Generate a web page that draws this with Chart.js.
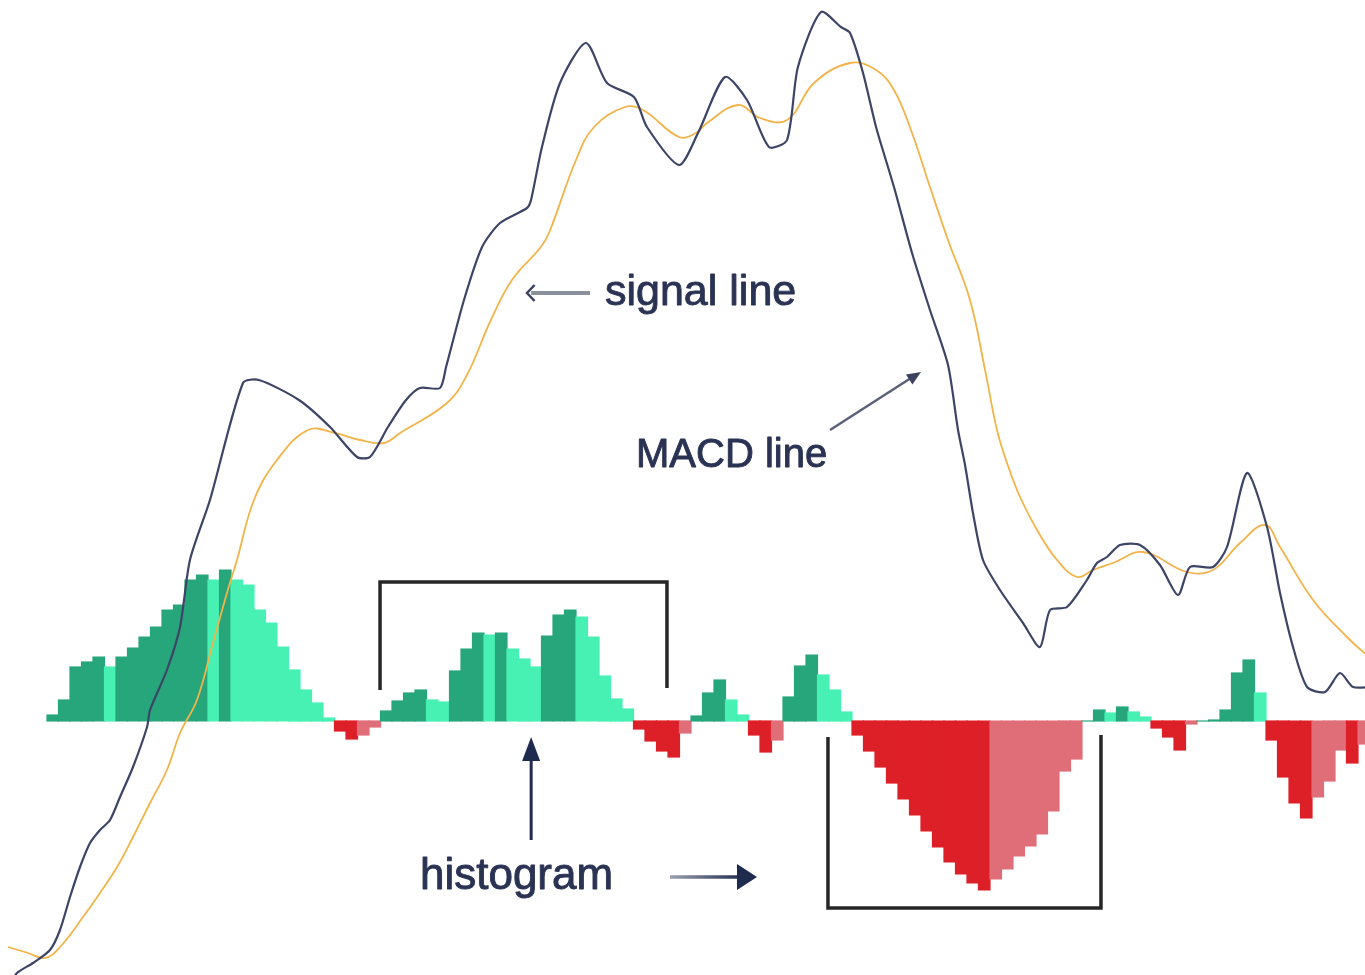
<!DOCTYPE html>
<html>
<head>
<meta charset="utf-8">
<title>MACD</title>
<script src="https://cdn.jsdelivr.net/npm/chart.js@4.4.1/dist/chart.umd.min.js"></script>
<style>
  html, body { margin: 0; padding: 0; background: #ffffff; }
  #wrap { position: relative; width: 1365px; height: 975px; }
</style>
</head>
<body>
<div id="wrap"><canvas id="macdChart"></canvas></div>
<script>
// Histogram: one bar per period, period 0 is the first bar
const histogram = [
  6, 21, 54, 59, 64, 54, 64, 73, 84, 94,
  111, 116, 141, 146, 141, 151, 141, 136, 111, 98,
  74, 51, 31, 18, 3, -10, -18, -14, -6, 10,
  20, 28, 31, 21, 19, 50, 72, 88, 86, 88,
  72, 62, 54, 85, 106, 111, 104, 84, 45, 22,
  12, -8, -20, -30, -36, -12, 5, 28, 41, 21,
  6, -14, -31, -19, 24, 55, 66, 46, 31, 9,
  -14, -30, -46, -62, -78, -94, -110, -126, -141, -153,
  -162, -169, -158, -148, -135, -125, -113, -90, -50, -38,
  0, 11, 8, 14, 9, 4, -7, -16, -29, -3,
  0, 1, 11, 48, 61, 28, -19, -56, -82, -97,
  -76, -60, -29, -42, -23
];

// MACD line (period, value)
const macdPeriods = [
  -3.72, -3.11, -1.72, -0.24, 0.63, 1.5, 2.37, 3.24, 4.11, 4.98,
  5.85, 6.98, 8.2, 8.46, 9.93, 11.07, 11.93, 13.67, 16.54, 17.93,
  21.41, 24.11, 26.46, 27.59, 29.15, 30.72, 31.93, 33.67, 34.2, 35.76,
  37.33, 38.89, 41.24, 41.59, 42.54, 44.11, 46.37, 48.2, 50.54, 51.67,
  54.46, 56.11, 58.46, 60.37, 62.28, 63.85, 64.8, 66.8, 68.54, 69.33,
  70.46, 71.59, 73.15, 74.72, 76.28, 77.85, 78.72, 79.33, 80.02, 80.89,
  82.37, 84.37, 85.85, 86.72, 88.2, 89.93, 90.8, 91.67, 92.8, 94.54,
  96.28, 97.85, 98.89, 100.89, 102.11, 103.85, 105.59, 106.72, 107.85, 109.07,
  110.63, 111.93, 113.07, 114.54
];
const macdValues = [
  -264, -252, -242, -229, -209, -176, -146, -122, -109, -99,
  -76, -46, -6, 11, 51, 94, 161, 221, 338, 341,
  321, 294, 264, 264, 294, 321, 333, 333, 354, 421,
  474, 498, 513, 521, 574, 638, 678, 638, 624, 594,
  556, 588, 644, 621, 574, 581, 654, 709, 694, 688,
  648, 594, 534, 468, 411, 356, 291, 256, 208, 161,
  131, 98, 74, 111, 114, 141, 158, 164, 176, 176,
  156, 126, 154, 154, 174, 248, 194, 128, 74, 34,
  29, 48, 34, 34
];

// Signal line (period, value)
const signalPeriods = [
  -3.89, -2.15, -0.67, 0.63, 2.63, 4.11, 5.59, 6.98, 8.46, 9.93,
  11.07, 12.54, 13.93, 15.15, 16.02, 17.5, 19.5, 22.2, 24.54, 26.72,
  28.8, 30.2, 34.28, 36.02, 38.02, 39.93, 42.37, 43.15, 45.5, 47.07,
  49.76, 51.33, 54.46, 55.93, 56.89, 59.59, 61.5, 63.85, 66.2, 69.33,
  71.59, 73.15, 74.72, 76.28, 77.85, 79.76, 81.07, 82.11, 82.98, 84.11,
  85.59, 87.33, 89.07, 90.46, 92.2, 94.8, 98.63, 100.89, 103.24, 105.41,
  106.72, 109.59, 112.54, 114.54
];
const signalValues = [
  -226, -232, -237, -226, -196, -172, -146, -116, -82, -49,
  -12, 21, 78, 128, 161, 221, 261, 291, 288, 281,
  278, 288, 318, 346, 399, 441, 473, 488, 561, 594,
  614, 611, 584, 588, 598, 616, 603, 601, 638, 658,
  651, 631, 588, 534, 481, 421, 351, 291, 258, 224,
  191, 161, 144, 151, 158, 169, 149, 151, 178, 196,
  174, 121, 84, 63
];

const labels = { signal: 'signal line', macd: 'MACD line', histogram: 'histogram' };

const DARK_GREEN = '#27a67b';
const LIGHT_GREEN = '#47f1b4';
const DARK_RED = '#dd1f28';
const LIGHT_RED = '#df6e78';

// darker shade while the bar grows away from zero, light while it shrinks
function barColor(ctx) {
  const i = ctx.dataIndex;
  const v = histogram[i];
  const prev = i > 0 ? histogram[i - 1] : 0;
  if (v >= 0) return v >= prev ? DARK_GREEN : LIGHT_GREEN;
  return v <= prev ? DARK_RED : LIGHT_RED;
}

function arrowHead(ctx, x1, y1, x2, y2, len, half, color) {
  const a = Math.atan2(y2 - y1, x2 - x1);
  ctx.save();
  ctx.fillStyle = color;
  ctx.beginPath();
  ctx.moveTo(x2, y2);
  ctx.lineTo(x2 - len * Math.cos(a) + half * Math.sin(a), y2 - len * Math.sin(a) - half * Math.cos(a));
  ctx.lineTo(x2 - len * Math.cos(a) - half * Math.sin(a), y2 - len * Math.sin(a) + half * Math.cos(a));
  ctx.closePath();
  ctx.fill();
  ctx.restore();
}

function label(ctx, text, x, y, size) {
  ctx.font = size + 'px "Liberation Sans", Arial, sans-serif';
  ctx.fillText(text, x, y);
  ctx.strokeText(text, x, y);
}

// labels, arrows and brackets, placed in data units
const annotations = {
  id: 'annotations',
  afterDatasetsDraw(chart) {
    const ctx = chart.ctx;
    const xs = chart.scales.x;
    const ys = chart.scales.y;
    const px = t => xs.getPixelForValue(t);
    const py = v => ys.getPixelForValue(v);

    ctx.save();
    ctx.lineCap = 'butt';

    // brackets
    ctx.strokeStyle = '#262626';
    ctx.lineWidth = 3.5;
    ctx.beginPath();
    ctx.moveTo(px(28.46), py(31));
    ctx.lineTo(px(28.46), py(139));
    ctx.lineTo(px(53.41), py(139));
    ctx.lineTo(px(53.41), py(33));
    ctx.stroke();
    ctx.beginPath();
    ctx.moveTo(px(67.41), py(-16));
    ctx.lineTo(px(67.41), py(-187));
    ctx.lineTo(px(91.15), py(-187));
    ctx.lineTo(px(91.15), py(-14));
    ctx.stroke();

    // signal line arrow
    ctx.strokeStyle = '#8a8f9c';
    ctx.lineWidth = 4;
    ctx.beginPath();
    ctx.moveTo(px(46.72), py(428));
    ctx.lineTo(px(41.6), py(428));
    ctx.stroke();
    ctx.strokeStyle = '#3c4360';
    ctx.lineWidth = 2.5;
    ctx.beginPath();
    ctx.moveTo(px(41.9), py(436));
    ctx.lineTo(px(41.24), py(428));
    ctx.lineTo(px(41.9), py(420));
    ctx.stroke();

    // MACD line arrow
    ctx.strokeStyle = '#5b6178';
    ctx.lineWidth = 2.5;
    ctx.beginPath();
    ctx.moveTo(px(67.59), py(291));
    ctx.lineTo(px(74.9), py(345));
    ctx.stroke();
    arrowHead(ctx, px(67.59), py(291), px(75.5), py(349), 14, 6, '#3c4360');

    // histogram arrows
    ctx.strokeStyle = '#1f2a4f';
    ctx.lineWidth = 3;
    ctx.beginPath();
    ctx.moveTo(px(41.6), py(-119));
    ctx.lineTo(px(41.6), py(-30));
    ctx.stroke();
    arrowHead(ctx, px(41.6), py(-119), px(41.6), py(-16), 24, 9, '#1f2a4f');

    const grad = ctx.createLinearGradient(px(53.67), 0, px(60), 0);
    grad.addColorStop(0, '#9aa0ae');
    grad.addColorStop(1, '#1f2a4f');
    ctx.strokeStyle = grad;
    ctx.lineWidth = 3.5;
    ctx.beginPath();
    ctx.moveTo(px(53.67), py(-156));
    ctx.lineTo(px(59.8), py(-156));
    ctx.stroke();
    arrowHead(ctx, px(53.67), py(-156), px(61.24), py(-156), 20, 13, '#1f2a4f');

    // labels (a thin stroke gives the medium weight of the original)
    ctx.fillStyle = '#2b3354';
    ctx.strokeStyle = '#2b3354';
    ctx.lineWidth = 0.9;
    ctx.lineJoin = 'round';
    ctx.textBaseline = 'alphabetic';
    ctx.textAlign = 'left';
    label(ctx, labels.signal, px(48.02), py(416), 43);
    label(ctx, labels.macd, px(50.72), py(254), 40);
    label(ctx, labels.histogram, px(31.93), py(-168), 44);

    ctx.restore();
  }
};

function createMacdChart() {
  const ctx = document.getElementById('macdChart').getContext('2d');
  return new Chart(ctx, {
    type: 'bar',
    data: {
      datasets: [{
        type: 'line',
        label: 'MACD line',
        data: macdPeriods.map((t, i) => ({ x: t, y: macdValues[i] })),
        borderColor: '#3d4567',
        borderWidth: 2.2,
        pointRadius: 0,
        tension: 0.25,
        order: 1
      }, {
        type: 'line',
        label: 'signal line',
        data: signalPeriods.map((t, i) => ({ x: t, y: signalValues[i] })),
        borderColor: '#f2b44a',
        borderWidth: 1.8,
        pointRadius: 0,
        tension: 0.4,
        order: 2
      }, {
        label: 'histogram',
        data: histogram.map((v, i) => ({ x: i, y: v })),
        backgroundColor: barColor,
        borderWidth: 0,
        barPercentage: 1,
        categoryPercentage: 1,
        inflateAmount: 0.6,
        order: 3
      }]
    },
    options: {
      responsive: true,
      maintainAspectRatio: false,
      animation: false,
      layout: { padding: 0 },
      scales: {
        x: { type: 'linear', display: false, offset: false, min: -4.587, max: 114.109 },
        y: { display: false, min: -254, max: 721 }
      },
      plugins: {
        legend: { display: false },
        tooltip: { enabled: false }
      }
    },
    plugins: [annotations]
  });
}

document.addEventListener('DOMContentLoaded', createMacdChart);
</script>
</body>
</html>
